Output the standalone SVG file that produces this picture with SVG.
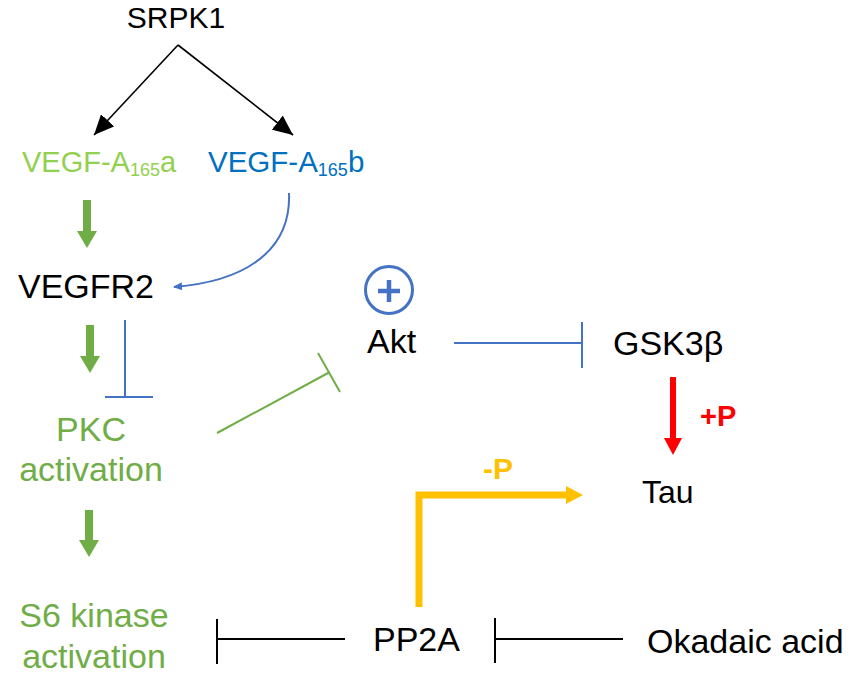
<svg xmlns="http://www.w3.org/2000/svg" width="850" height="676" viewBox="0 0 850 676">
<style>
text{font-family:"Liberation Sans",Arial,sans-serif;font-size:34px;fill:#000}
.lg{fill:#92D050}
.gr{fill:#70AD47}
.bl{fill:#0070C0}
.thin{fill:none;stroke:#000;stroke-width:1.6}
.ga{stroke:#70AD47;stroke-width:8;fill:none}
.gi{stroke:#70AD47;stroke-width:2;fill:none}
.bi{stroke:#4472C4;stroke-width:2;fill:none}
.ki{stroke:#000;stroke-width:2;fill:none}
</style>
<defs>
<marker id="ahK" markerUnits="userSpaceOnUse" markerWidth="20" markerHeight="18" refX="20" refY="9" orient="auto"><path d="M0,0 L20,9 L0,18 z" fill="#000"/></marker>
<marker id="ahG" markerUnits="userSpaceOnUse" markerWidth="17" markerHeight="20" refX="9" refY="10" orient="auto"><path d="M0,0 L17,10 L0,20 z" fill="#70AD47"/></marker>
<marker id="ahR" markerUnits="userSpaceOnUse" markerWidth="17" markerHeight="18" refX="9" refY="9" orient="auto"><path d="M0,0 L17,9 L0,18 z" fill="#FF0000"/></marker>
<marker id="ahO" markerUnits="userSpaceOnUse" markerWidth="17" markerHeight="18" refX="9" refY="9" orient="auto"><path d="M0,0 L17,9 L0,18 z" fill="#FFC000"/></marker>
<marker id="ahB" markerUnits="userSpaceOnUse" markerWidth="9" markerHeight="8" refX="8" refY="4" orient="auto"><path d="M0,0 L9,4 L0,8 z" fill="#4472C4"/></marker>
</defs>
<g id="connectors">
<line class="thin" x1="178" y1="45" x2="94" y2="135" marker-end="url(#ahK)"/>
<line class="thin" x1="178" y1="45" x2="293" y2="135" marker-end="url(#ahK)"/>
<line class="ga" x1="87" y1="200" x2="87" y2="240" marker-end="url(#ahG)"/>
<line class="ga" x1="90" y1="325" x2="90" y2="365" marker-end="url(#ahG)"/>
<line class="ga" x1="89" y1="510" x2="89" y2="549" marker-end="url(#ahG)"/>
<path class="bi" d="M289,193 C291,240 260,280 174,287" marker-end="url(#ahB)"/>
<line class="bi" x1="125" y1="320" x2="125" y2="397"/>
<line class="bi" x1="105" y1="397" x2="153" y2="397"/>
<line class="gi" x1="217" y1="433" x2="329" y2="372.5"/>
<line class="gi" x1="318" y1="353" x2="340" y2="392"/>
<line class="bi" x1="454" y1="343" x2="582" y2="343"/>
<line class="bi" x1="582" y1="322" x2="582" y2="368"/>
<line x1="673" y1="377" x2="673" y2="447" stroke="#FF0000" stroke-width="6" marker-end="url(#ahR)"/>
<polyline points="419,607 419,495 575,495" fill="none" stroke="#FFC000" stroke-width="7" marker-end="url(#ahO)"/>
<line class="ki" x1="217" y1="639" x2="345" y2="639"/>
<line class="ki" x1="217" y1="619" x2="217" y2="664"/>
<line class="ki" x1="495" y1="639" x2="623" y2="639"/>
<line class="ki" x1="495" y1="618" x2="495" y2="663"/>
</g>
<g id="SRPK1"><text x="176" y="28" text-anchor="middle" style="font-size:30px">SRPK1</text></g>
<g id="VEGF-A165a"><text x="22" y="172" class="lg" style="font-size:29px">VEGF-A<tspan style="font-size:18px" dy="4">165</tspan><tspan dy="-4">a</tspan></text></g>
<g id="VEGF-A165b"><text x="208" y="172" class="bl" style="font-size:29.5px">VEGF-A<tspan style="font-size:18px" dy="4">165</tspan><tspan dy="-4">b</tspan></text></g>
<g id="VEGFR2"><text x="18" y="298">VEGFR2</text></g>
<g id="PKC"><text x="91" y="441" text-anchor="middle" class="gr">PKC</text><text x="91" y="481" text-anchor="middle" class="gr">activation</text></g>
<g id="S6K"><text x="94" y="627" text-anchor="middle" class="gr">S6 kinase</text><text x="94" y="668" text-anchor="middle" class="gr">activation</text></g>
<g id="Akt">
<circle cx="389" cy="290" r="23.5" fill="none" stroke="#4472C4" stroke-width="3"/>
<path d="M378,291 H400 M389,280 V302" stroke="#4472C4" stroke-width="4.5" fill="none"/>
<text x="367" y="353">Akt</text>
</g>
<g id="GSK3b"><text x="613" y="355">GSK3β</text></g>
<g id="Tau"><text x="642" y="503" style="font-size:32px">Tau</text></g>
<g id="PP2A"><text x="373" y="651">PP2A</text></g>
<g id="Okadaic"><text x="647" y="653">Okadaic acid</text></g>
<g id="plusP"><text x="700" y="426" style="font-size:29px;font-weight:bold;fill:#FF0000">+P</text></g>
<g id="minusP"><text x="483" y="479" style="font-size:30px;font-weight:bold;fill:#FFC000">-P</text></g>
</svg>
